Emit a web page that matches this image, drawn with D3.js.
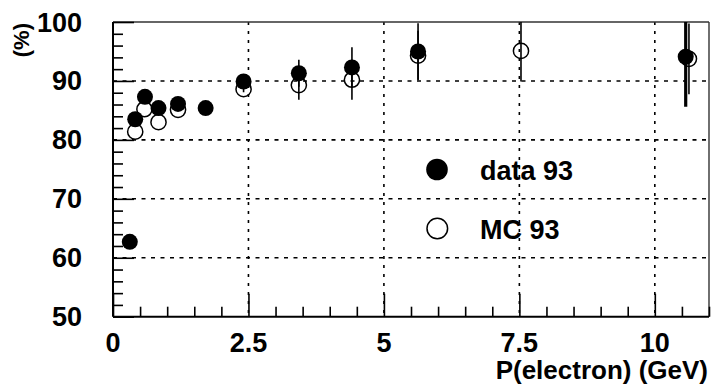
<!DOCTYPE html>
<html>
<head>
<meta charset="utf-8">
<script src="https://cdn.jsdelivr.net/npm/d3@7"></script>
<style>
  html, body { margin: 0; padding: 0; background: #fff; }
  svg { display: block; }
  text { font-family: "Liberation Sans", Arial, Helvetica, sans-serif; font-weight: bold; fill: #000; }
</style>
</head>
<body>
<svg id="chart" width="712" height="387"></svg>
<script>
// Electron momentum (GeV) and efficiency (%) for data and Monte Carlo
const dataP   = [0.31, 0.41, 0.59, 0.84, 1.20, 1.71, 2.41, 3.43, 4.41, 5.63, 10.57];
const dataEff = [62.7, 83.5, 87.3, 85.4, 86.1, 85.4, 89.9, 91.3, 92.3, 95.0, 94.1];
const dataErr = [0, 0, 0, 0, 0, 0, 0.5, 2.3, 3.4, 4.8, 8.5];

const mcP   = [0.41, 0.58, 0.84, 1.20, 2.41, 3.43, 4.41, 5.63, 7.53, 10.63];
const mcEff = [81.4, 85.2, 83.0, 85.1, 88.6, 89.3, 90.2, 94.3, 95.1, 93.75];
const mcErr = [0, 0, 0, 0, 0.5, 2.5, 3.4, 4.2, 5.2, 6.0];

const xTickValues = [0, 2.5, 5, 7.5, 10];
const xTickLabels = ["0", "2.5", "5", "7.5", "10"];
const yTickValues = [50, 60, 70, 80, 90, 100];
const yTickLabels = ["50", "60", "70", "80", "90", "100"];

const legendLabels = ["data 93", "MC 93"];

const svg = d3.select("#chart");
const plotLeft = 113, plotRight = 709, plotTop = 22, plotBottom = 316.7;

const x = d3.scaleLinear().domain([0, 11]).range([plotLeft, plotRight]);
const y = d3.scaleLinear().domain([50, 100]).range([plotBottom, plotTop]);

// clip for marks inside the frame
svg.append("defs").append("clipPath").attr("id", "plotClip")
  .append("rect").attr("x", plotLeft).attr("y", plotTop)
  .attr("width", plotRight - plotLeft).attr("height", plotBottom - plotTop);

// dashed grid at the major ticks
const grid = svg.append("g");
grid.selectAll("line.gx").data(xTickValues.filter(v => v > 0)).join("line")
  .attr("x1", d => x(d)).attr("x2", d => x(d)).attr("y1", plotTop).attr("y2", plotBottom)
  .attr("stroke", "#000").attr("stroke-width", 1.6).attr("stroke-dasharray", "3,6");
grid.selectAll("line.gy").data(yTickValues.filter(v => v > 50 && v < 100)).join("line")
  .attr("x1", plotLeft).attr("x2", plotRight).attr("y1", d => y(d)).attr("y2", d => y(d))
  .attr("stroke", "#000").attr("stroke-width", 1.6).attr("stroke-dasharray", "4,5.5");

// frame
svg.append("line").attr("x1", plotLeft).attr("x2", plotRight).attr("y1", plotTop).attr("y2", plotTop)
  .attr("stroke", "#333").attr("stroke-width", 1.4);
svg.append("line").attr("x1", plotRight).attr("x2", plotRight).attr("y1", plotTop).attr("y2", plotBottom)
  .attr("stroke", "#333").attr("stroke-width", 1.4);

// x axis with inward ticks: majors every 2.5, minors every 0.5
const xMinor = d3.range(0, 11.01, 0.5).filter(v => !xTickValues.some(t => Math.abs(t - v) < 1e-6));
const xAxisMinor = d3.axisTop(x).tickValues(xMinor).tickSize(10).tickFormat("");
const xAxisMajor = d3.axisTop(x).tickValues(xTickValues).tickSize(23).tickFormat("");
const gxMin = svg.append("g").attr("transform", `translate(0,${plotBottom})`).call(xAxisMinor);
const gxMaj = svg.append("g").attr("transform", `translate(0,${plotBottom})`).call(xAxisMajor);
[gxMin, gxMaj].forEach(g => {
  g.select(".domain").remove();
  g.selectAll("line").attr("stroke", "#000").attr("stroke-width", 1.6);
});
svg.append("line").attr("x1", plotLeft).attr("x2", plotRight).attr("y1", plotBottom).attr("y2", plotBottom)
  .attr("stroke", "#000").attr("stroke-width", 2);

// y axis with inward ticks: majors every 10, minors every 2
const yMinor = d3.range(50, 100.01, 2).filter(v => v % 10 !== 0);
const yAxisMinor = d3.axisRight(y).tickValues(yMinor).tickSize(10).tickFormat("");
const yAxisMajor = d3.axisRight(y).tickValues(yTickValues).tickSize(21).tickFormat("");
const gyMin = svg.append("g").attr("transform", `translate(${plotLeft},0)`).call(yAxisMinor);
const gyMaj = svg.append("g").attr("transform", `translate(${plotLeft},0)`).call(yAxisMajor);
[gyMin, gyMaj].forEach(g => {
  g.select(".domain").remove();
  g.selectAll("line").attr("stroke", "#000").attr("stroke-width", 1.6);
});
svg.append("line").attr("x1", plotLeft).attr("x2", plotLeft).attr("y1", plotTop).attr("y2", plotBottom)
  .attr("stroke", "#000").attr("stroke-width", 2);

// tick labels
svg.append("g").selectAll("text").data(xTickValues).join("text")
  .attr("x", d => x(d)).attr("y", 351.5)
  .attr("text-anchor", "middle").attr("font-size", 27)
  .text((d, i) => xTickLabels[i]);
svg.append("g").selectAll("text").data(yTickValues).join("text")
  .attr("x", 82).attr("y", d => y(d) + 9.5)
  .attr("text-anchor", "end").attr("font-size", 27)
  .text((d, i) => yTickLabels[i]);

// axis titles
svg.append("text").attr("x", 708).attr("y", 379).attr("text-anchor", "end")
  .attr("font-size", 26).text("P(electron) (GeV)");
svg.append("text").attr("transform", "translate(29,23) rotate(-90)")
  .attr("text-anchor", "end").attr("font-size", 22).text("(%)");

// marks
const marks = svg.append("g").attr("clip-path", "url(#plotClip)");
const mcRows = mcP.map((p, i) => ({p, v: mcEff[i], e: mcErr[i]}));
const dataRows = dataP.map((p, i) => ({p, v: dataEff[i], e: dataErr[i]}));

marks.selectAll("line.mcerr").data(mcRows.filter(d => d.e > 0)).join("line")
  .attr("x1", d => x(d.p)).attr("x2", d => x(d.p))
  .attr("y1", d => y(d.v - d.e)).attr("y2", d => y(d.v + d.e))
  .attr("stroke", "#000").attr("stroke-width", 1.6);
marks.selectAll("line.daterr").data(dataRows.filter(d => d.e > 0)).join("line")
  .attr("x1", d => x(d.p)).attr("x2", d => x(d.p))
  .attr("y1", d => y(d.v - d.e)).attr("y2", d => y(d.v + d.e))
  .attr("stroke", "#000").attr("stroke-width", d => d.e > 6 ? 3.2 : 1.6);

marks.selectAll("circle.mc").data(mcRows).join("circle")
  .attr("cx", d => x(d.p)).attr("cy", d => y(d.v)).attr("r", 7.6)
  .attr("fill", "none").attr("stroke", "#000").attr("stroke-width", 1.5);
marks.selectAll("circle.dat").data(dataRows).join("circle")
  .attr("cx", d => x(d.p)).attr("cy", d => y(d.v)).attr("r", 8)
  .attr("fill", "#000");

// legend
const legend = svg.append("g");
legend.append("circle").attr("cx", 437).attr("cy", 169.5).attr("r", 10.8).attr("fill", "#000");
legend.append("circle").attr("cx", 437.3).attr("cy", 228.5).attr("r", 10.3)
  .attr("fill", "none").attr("stroke", "#000").attr("stroke-width", 1.5);
legend.append("text").attr("x", 480).attr("y", 180).attr("font-size", 27).text(legendLabels[0]);
legend.append("text").attr("x", 480).attr("y", 238.5).attr("font-size", 27).text(legendLabels[1]);
</script>
</body>
</html>
